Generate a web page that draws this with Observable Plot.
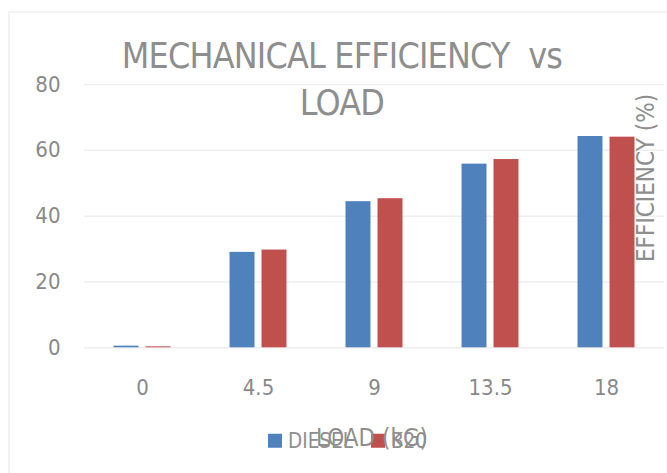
<!DOCTYPE html>
<html>
<head>
<meta charset="utf-8">
<script src="https://cdn.jsdelivr.net/npm/d3@7"></script>
<script src="https://cdn.jsdelivr.net/npm/@observablehq/plot@0.6"></script>
<style>
  html, body { margin: 0; padding: 0; background: #fff; }
  #wrap { position: relative; width: 667px; height: 473px; overflow: hidden; background: #fff;
          font-family: "Liberation Sans Narrow", "DejaVu Sans Condensed", "Liberation Sans", sans-serif; color: #8c8c8c; }
  #border { position: absolute; left: 8px; top: 11px; width: 720px; height: 520px; border: 2px solid #f3f3f3; box-sizing: border-box; }
  #chart { position: absolute; left: 0; top: 0; }
  #title { position: absolute; left: 42px; top: 32px; width: 600px; text-align: center; font-size: 35.5px; letter-spacing: -0.8px; line-height: 47px; color: #8e8e8e; white-space: pre; }
  #ylabel { position: absolute; left: 646px; top: 178px; transform: translate(-50%, -50%) rotate(-90deg); font-size: 24px; line-height: 1; white-space: nowrap; color: #8e8e8e; }
  #xlabel { position: absolute; left: 372px; top: 438px; transform: translate(-50%, -50%); font-size: 24px; line-height: 1; white-space: nowrap; color: #8e8e8e; }
  #legend { position: absolute; left: 268px; top: 441px; transform: translateY(-50%); display: flex; align-items: center; font-size: 20.5px; line-height: 1; color: #8e8e8e; }
  .item { display: flex; align-items: center; margin-right: 18px; }
  .sw { width: 14px; height: 14px; margin-right: 6px; }
</style>
</head>
<body>
<div id="wrap">
  <div id="border"></div>
  <div id="chart"></div>
  <div id="title"></div>
  <div id="ylabel"></div>
  <div id="legend"></div>
  <div id="xlabel"></div>
</div>
<script>
// ---- data ----
const loads = ["0", "4.5", "9", "13.5", "18"];
const seriesNames = ["DIESEL", "B20"];
const dieselValues = [0.5, 29.0, 44.4, 55.8, 64.2];
const b20Values = [0.3, 29.7, 45.3, 57.2, 64.0];
const seriesColors = ["#4F81BD", "#C0504D"];
const yTicks = [0, 20, 40, 60, 80];
const titleLines = ["MECHANICAL EFFICIENCY  vs", "LOAD"];
const yTitle = "EFFICIENCY (%)";
const xTitle = "LOAD (kG)";

const rows = [];
loads.forEach((l, i) => {
  rows.push({load: l, series: seriesNames[0], value: dieselValues[i]});
  rows.push({load: l, series: seriesNames[1], value: b20Values[i]});
});

const chart = Plot.plot({
  width: 667,
  height: 473,
  marginLeft: 83.5,
  marginRight: 3.5,
  marginTop: 84,
  marginBottom: 125.7,
  style: {
    fontFamily: '"Liberation Sans Narrow", "DejaVu Sans Condensed", "Liberation Sans", sans-serif',
    fontSize: "22px",
    color: "#898989",
    background: "transparent",
    overflow: "visible"
  },
  facet: {data: rows, x: "load", marginRight: 0, marginLeft: 0},
  fx: {domain: loads, padding: 0, tickSize: 0, tickPadding: 32, label: null},
  x: {domain: seriesNames, axis: null, paddingInner: 0.207, paddingOuter: 0.872},
  y: {domain: [0, 80], ticks: yTicks, tickSize: 0, tickPadding: 24, label: null},
  color: {domain: seriesNames, range: seriesColors},
  marks: [
    Plot.ruleY(yTicks, {stroke: "#eeeeee", strokeWidth: 1.5}),
    Plot.barY(rows, {x: "series", y: "value", fill: "series"})
  ]
});
document.getElementById("chart").appendChild(chart);

document.getElementById("title").textContent = titleLines.join("\n");
document.getElementById("ylabel").textContent = yTitle;
document.getElementById("xlabel").textContent = xTitle;

const legend = document.getElementById("legend");
seriesNames.forEach((s, i) => {
  const it = document.createElement("div");
  it.className = "item";
  const sw = document.createElement("div");
  sw.className = "sw";
  sw.style.background = seriesColors[i];
  const t = document.createElement("span");
  t.textContent = s;
  it.appendChild(sw);
  it.appendChild(t);
  legend.appendChild(it);
});
</script>
</body>
</html>
